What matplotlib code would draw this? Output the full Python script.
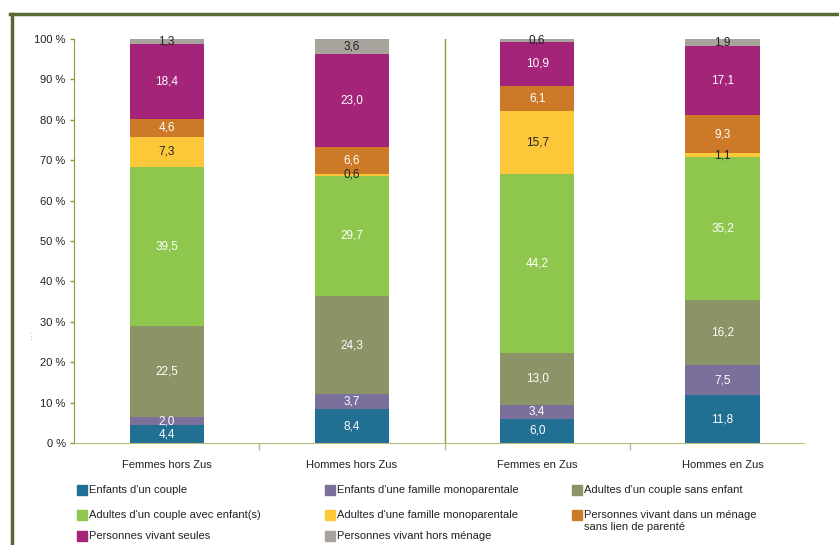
import matplotlib.pyplot as plt
from matplotlib.lines import Line2D
from matplotlib.patches import Rectangle

plt.rcParams['font.family'] = ['Liberation Sans', 'DejaVu Sans']

# data
categories = ['Femmes hors Zus', 'Hommes hors Zus', 'Femmes en Zus', 'Hommes en Zus']
series = [
    "Enfants d'un couple",
    "Enfants d'une famille monoparentale",
    "Adultes d'un couple sans enfant",
    "Adultes d'un couple avec enfant(s)",
    "Adultes d'une famille monoparentale",
    "Personnes vivant dans un ménage\nsans lien de parenté",
    "Personnes vivant seules",
    "Personnes vivant hors ménage",
]
enfants_couple = [4.4, 8.4, 6.0, 11.8]
enfants_mono = [2.0, 3.7, 3.4, 7.5]
adultes_sans_enfant = [22.5, 24.3, 13.0, 16.2]
adultes_avec_enfant = [39.5, 29.7, 44.2, 35.2]
adultes_mono = [7.3, 0.6, 15.7, 1.1]
sans_lien = [4.6, 6.6, 6.1, 9.3]
seules = [18.4, 23.0, 10.9, 17.1]
hors_menage = [1.3, 3.6, 0.6, 1.9]
values = [enfants_couple, enfants_mono, adultes_sans_enfant, adultes_avec_enfant,
          adultes_mono, sans_lien, seules, hors_menage]

colors = ['#216f93', '#7b6f9c', '#8a9466', '#8fc74e',
          '#fcc83a', '#cd7a28', '#a4247a', '#a9a39d']
text_colors = ['white', 'white', 'white', 'white', '#222222', 'white', 'white', '#222222']

W, H = 839, 545
fig = plt.figure(figsize=(W / 100, H / 100), dpi=100)
ax = fig.add_axes([74 / W, (H - 443) / H, 730 / W, 404 / H])

x = list(range(len(categories)))
bottom = [0.0] * len(categories)
for vals, col, tcol in zip(values, colors, text_colors):
    ax.bar(x, vals, width=0.4, bottom=bottom, color=col, edgecolor='none')
    for i, v in enumerate(vals):
        ax.text(x[i], bottom[i] + v / 2, f"{v:.1f}".replace('.', ','),
                ha='center', va='center', fontsize=8.5, color=tcol)
    bottom = [b + v for b, v in zip(bottom, vals)]

ax.set_xlim(-0.5, 3.44)
ax.set_ylim(0, 100)
ax.set_yticks(range(0, 101, 10))
ax.set_yticklabels([f"{t} %" for t in range(0, 101, 10)], fontsize=8, color='#222222')
ax.tick_params(axis='y', length=3, width=1, color='#8a9a3a', pad=3)

# group separators / category labels
ax.set_xticks([0.5, 1.5, 2.5])
ax.set_xticklabels([])
ax.tick_params(axis='x', which='major', length=5, width=1, color='#b5bd7a')
ax.set_xticks(x, minor=True)
ax.set_xticklabels(categories, minor=True, fontsize=8, color='#222222')
ax.tick_params(axis='x', which='minor', length=0, pad=12)
ax.axvline(1.5, ymin=0, ymax=1, color='#8a9a3a', lw=1)

for s in ['top', 'right']:
    ax.spines[s].set_visible(False)
ax.spines['left'].set_color('#8a9a3a')
ax.spines['bottom'].set_color('#b5bd7a')

# faint y label marks
fig.text(32 / W, 1 - 336 / H, '- - -', rotation=90, fontsize=4, color='#999999',
         ha='center', va='center')

# legend drawn by hand
col_x = [77, 325, 572]
row_y = [490, 515, 536]
for k, (lab, col) in enumerate(zip(series, colors)):
    r, c = divmod(k, 3)
    px, py = col_x[c], row_y[r]
    fig.add_artist(Rectangle((px / W, 1 - (py + 5) / H), 10 / W, 10 / H,
                             transform=fig.transFigure, color=col))
    fig.text((px + 12) / W, 1 - (py - 5) / H, lab, fontsize=8, color='#222222',
             ha='left', va='top', linespacing=1.3)

# outer frame
fig.add_artist(Line2D([10 / W, 1], [1 - 14 / H, 1 - 14 / H], color='#556b2f', lw=2.5,
                      transform=fig.transFigure))
fig.add_artist(Line2D([12 / W, 12 / W], [1 - 14 / H, 0], color='#556b2f', lw=2.5,
                      transform=fig.transFigure))

fig.savefig('out.png', dpi=100)
